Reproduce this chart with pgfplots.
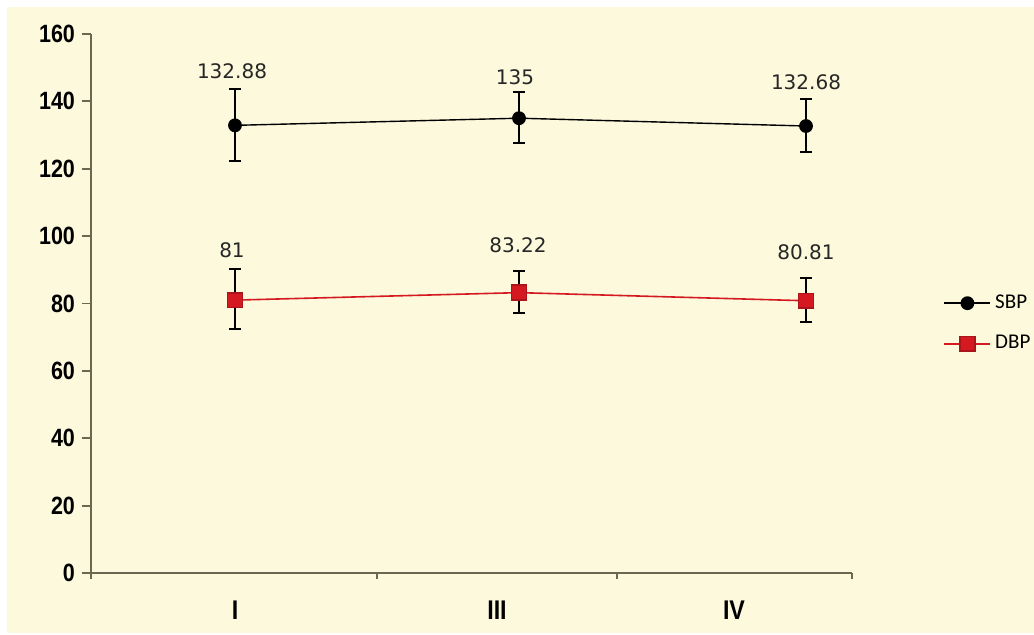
\documentclass[border=0pt]{standalone}
\usepackage{pgfplots}
\pgfplotsset{compat=1.18}
\usepackage{pgfplotstable}
\usepackage{fontspec}
\setmainfont{Liberation Sans}
\newfontfamily\narrowfont[FakeStretch=0.86]{Liberation Sans}
\newfontfamily\dejavu{DejaVu Sans}
\newfontfamily\carlito{Carlito}
\definecolor{bgyel}{HTML}{FCF9DC}
\definecolor{axcol}{HTML}{6E6650}
\definecolor{dbpred}{HTML}{D41920}

% x positions follow the original picture (markers are not centred on labels)
\pgfplotstableread{
x   y      ep    em
144 132.88 10.8  10.6
428 135.00 7.7   7.5
715 132.68 8.0   7.8
}\sbp
\pgfplotstableread{
x   y      ep    em
144 81.00  9.2   8.6
428 83.22  6.5   5.9
715 80.81  6.9   6.2
}\dbp

\begin{document}
\begin{tikzpicture}
\useasboundingbox (0,0) rectangle (517pt,317.5pt);
\fill[bgyel] (3.5pt,1pt) rectangle (517pt,314pt);
\begin{axis}[
  at={(45.5pt,31pt)}, anchor=south west,
  scale only axis, width=380.5pt, height=269.5pt,
  xmin=0, xmax=761, ymin=0, ymax=160,
  axis x line*=bottom, axis y line*=left,
  axis line style={axcol, line width=0.9pt, -},
  ytick={0,20,...,160},
  xtick={144,406,643}, xticklabels={I,III,IV},
  minor xtick={0,286,526,761},
  tick align=outside,
  major tick length=4.5pt, minor tick length=3pt,
  every tick/.style={axcol, line width=0.9pt},
  xtick style={draw=none},
  minor x tick style={draw=axcol, line width=0.9pt},
  yticklabel style={font=\narrowfont\bfseries\fontsize{12.5}{14}\selectfont},
  xticklabel style={font=\narrowfont\bfseries\fontsize{13.5}{15}\selectfont, yshift=-6pt},
  /pgf/number format/assume math mode=true,
  legend style={at={(1.112,0.463)}, anchor=west, draw=none, fill=none,
    font=\carlito\fontsize{10.5}{12}\selectfont, row sep=8pt},
  legend cell align=left,
  legend image code/.code={\draw[mark repeat=2,mark phase=2,#1] plot coordinates {(0pt,0pt)(11.5pt,0pt)(23pt,0pt)};},
]
\addplot[black, line width=0.7pt, mark=*, mark size=3.1pt, mark options={fill=black, solid},
  error bars/.cd, y dir=both, y explicit,
  error bar style={black, line width=1pt},
  error mark options={rotate=90, mark size=3pt, line width=1pt, black}]
  table[x=x, y=y, y error plus=ep, y error minus=em] {\sbp};
\addlegendentry{SBP}
\addplot[dbpred, line width=0.8pt, mark=square*, mark size=3.7pt, mark options={fill=dbpred, draw=dbpred!80!black, solid},
  error bars/.cd, y dir=both, y explicit,
  error bar style={black, line width=1pt},
  error mark options={rotate=90, mark size=3pt, line width=1pt, black}]
  table[x=x, y=y, y error plus=ep, y error minus=em] {\dbp};
\addlegendentry{DBP}
\begin{scope}[every node/.style={font=\dejavu\fontsize{10}{12}\selectfont, text=black!85}]
\node at (axis cs:141,149.0) {132.88};
\node at (axis cs:424,147.2) {135};
\node at (axis cs:715,145.7) {132.68};
\node at (axis cs:141,95.9) {81};
\node at (axis cs:427,97.4) {83.22};
\node at (axis cs:715,95.3) {80.81};
\end{scope}
\end{axis}
\end{tikzpicture}
\end{document}
